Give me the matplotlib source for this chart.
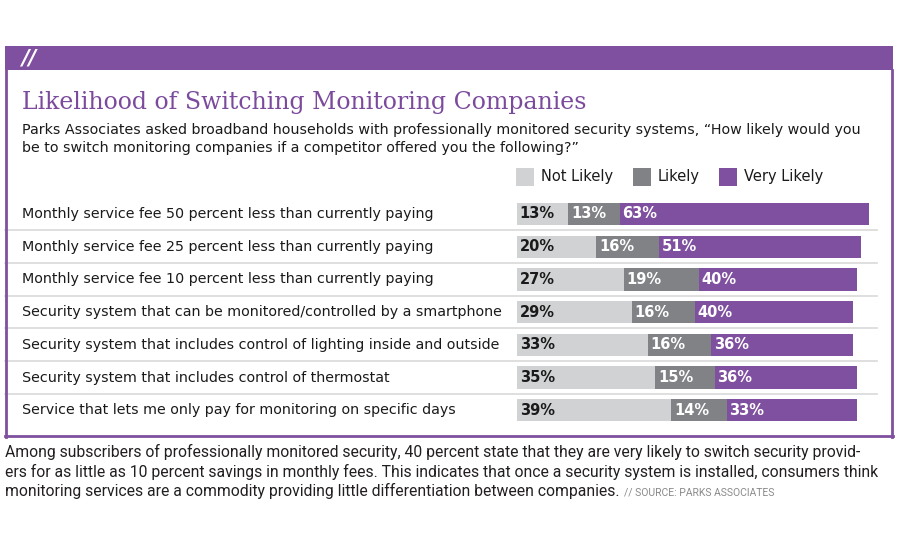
import matplotlib.pyplot as plt
import matplotlib.transforms as mtransforms
from matplotlib.patches import Rectangle
from matplotlib.lines import Line2D

categories = [
    "Monthly service fee 50 percent less than currently paying",
    "Monthly service fee 25 percent less than currently paying",
    "Monthly service fee 10 percent less than currently paying",
    "Security system that can be monitored/controlled by a smartphone",
    "Security system that includes control of lighting inside and outside",
    "Security system that includes control of thermostat",
    "Service that lets me only pay for monitoring on specific days",
]
not_likely = [13, 20, 27, 29, 33, 35, 39]
likely = [13, 16, 19, 16, 16, 15, 14]
very_likely = [63, 51, 40, 40, 36, 36, 33]
series_names = ["Not Likely", "Likely", "Very Likely"]

caption_lines = [
    "Among subscribers of professionally monitored security, 40 percent state that they are very likely to switch security provid-",
    "ers for as little as 10 percent savings in monthly fees. This indicates that once a security system is installed, consumers think",
    "monitoring services are a commodity providing little differentiation between companies.",
]

PURPLE = "#7f509f"
GREY_LIGHT = "#d1d2d4"
GREY_DARK = "#808285"
colors = [GREY_LIGHT, GREY_DARK, PURPLE]
text_colors = ["#1a1a1a", "white", "white"]

W, H = 900, 550
fig = plt.figure(figsize=(9, 5.5), dpi=100)
body_font = ["DejaVu Sans"]


def px(x, y):
    """pixel position (from top-left) -> figure fraction"""
    return x / W, 1 - y / H


# purple band + box
fig.add_artist(Rectangle(px(5, 70), 888 / W, 24 / H, transform=fig.transFigure,
                         color=PURPLE, lw=0))
for xs, ys in [((6, 6), (70, 437)), ((892, 892), (70, 437)), ((5, 893), (436, 436))]:
    fig.add_artist(Line2D([x / W for x in xs], [1 - y / H for y in ys],
                          transform=fig.transFigure, color=PURPLE, lw=2))
fig.text(*px(21, 59), "//", color="white", fontsize=15, fontweight="bold",
         style="italic", va="center", ha="left")

# title / subtitle
fig.text(*px(22, 102), "Likelihood of Switching Monitoring Companies",
         fontsize=17, color="#7b4a9c", family="DejaVu Serif", va="center")
fig.text(*px(22, 139),
         "Parks Associates asked broadband households with professionally monitored security systems, \u201cHow likely would you\n"
         "be to switch monitoring companies if a competitor offered you the following?\u201d",
         fontsize=10.25, color="#1a1a1a", family=body_font, va="center", linespacing=1.4)

# bar axes: x=0 at px 517, 1% = 3.955 px
row_h = 32.7
ax_left, ax_right = 517, 877
top = 214 - row_h / 2
n = len(categories)
ax = fig.add_axes([ax_left / W, 1 - (top + n * row_h) / H,
                   (ax_right - ax_left) / W, n * row_h / H])
ax.set_xlim(0, (ax_right - ax_left) / 3.955)
ax.set_ylim(n - 0.5, -0.5)
ax.axis("off")

y = list(range(n))
left = [0] * n
for vals, c, tc in zip([not_likely, likely, very_likely], colors, text_colors):
    ax.barh(y, vals, left=left, height=0.68, color=c, edgecolor="none")
    for i, (l, v) in enumerate(zip(left, vals)):
        ax.text(l + 0.7, i, f"{v}%", color=tc, fontsize=10.5, fontweight="bold",
                va="center", ha="left", family=body_font)
    left = [a + b for a, b in zip(left, vals)]

# row labels and separators
blend = mtransforms.blended_transform_factory(fig.transFigure, ax.transData)
for i, cat in enumerate(categories):
    ax.text(22 / W, i, cat, transform=blend, fontsize=10.25, va="center",
            ha="left", color="#1a1a1a", family=body_font)
for i in range(n - 1):
    ax.add_line(Line2D([5 / W, 877 / W], [i + 0.5, i + 0.5], transform=blend,
                       color="#d9d9d9", lw=1.2, clip_on=False))

# legend
leg_x = [516, 633, 719]
for lx, name, c in zip(leg_x, series_names, colors):
    fig.add_artist(Rectangle(px(lx, 186), 18 / W, 18 / H,
                             transform=fig.transFigure, color=c, lw=0))
    fig.text(*px(lx + 25, 177), name, fontsize=10.5, va="center", ha="left",
             color="#1a1a1a", family=body_font)

# caption
cap_font = ["Roboto", "DejaVu Sans"]
last = None
for k, line in enumerate(caption_lines):
    last = fig.text(*px(5, 452 + k * 19.5), line, fontsize=11.35, va="center",
                    ha="left", color="#231f20", family=cap_font)
fig.canvas.draw()
bb = last.get_window_extent()
fig.text((bb.x1 + 5) / W, 1 - (452 + 2 * 19.5 + 1) / H, "// SOURCE: PARKS ASSOCIATES",
         fontsize=7.5, color="#8a8a8a", va="center", ha="left", family=cap_font)

fig.savefig("out.png", dpi=100)
